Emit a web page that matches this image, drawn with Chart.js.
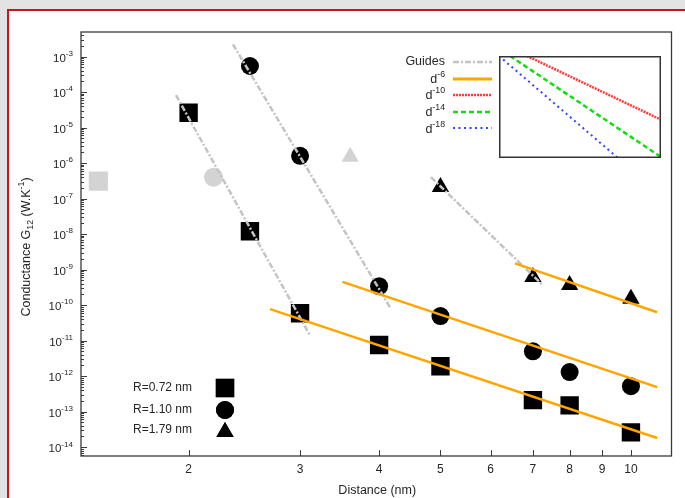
<!DOCTYPE html>
<html>
<head>
<meta charset="utf-8">
<script src="https://cdn.jsdelivr.net/npm/chart.js@4.4.0/dist/chart.umd.min.js"></script>
<style>
html, body { margin: 0; padding: 0; }
body { width: 685px; height: 498px; background: #e3e3e3; position: relative; overflow: hidden; }
#frame { position: absolute; left: 7px; top: 9px; width: 720px; height: 540px; background: #fff;
         border-left: 2px solid #c8161d; border-top: 2px solid #c8161d; }
#main { position: absolute; left: 0; top: 0; }
#inset { position: absolute; left: 499px; top: 56px; background: #fff; }
</style>
</head>
<body>
<div id="frame"></div>
<canvas id="main" width="685" height="498"></canvas>
<canvas id="inset" width="162" height="102"></canvas>
<script>
// conductance vs distance, three particle radii
var sqDist = [2, 2.5, 3, 4, 5, 7, 8, 10];
var condR072 = [2.6e-5, 1.2e-8, 5.9e-11, 7.5e-12, 1.9e-12, 2.1e-13, 1.5e-13, 2.6e-14];
var circDist = [2.5, 3, 4, 5, 7, 8, 10];
var condR110 = [5.4e-4, 1.6e-6, 3.4e-10, 4.9e-11, 5.0e-12, 1.3e-12, 5.2e-13];
var triDist = [5, 7, 8, 10];
var condR179 = [2.1e-7, 6.2e-10, 3.7e-10, 1.5e-10];
// light grey points (contact values): square, circle, triangle
var greyDist = [1.44, 2.19, 3.6];
var greyCond = [3.1e-7, 4.0e-7, 1.5e-6];
// guide segments (start / end)
var guideX = [[1.91, 3.11], [2.35, 4.16], [4.83, 7.25]];
var guideY = [[8.2e-5, 1.4e-11], [2.2e-3, 8.8e-11], [4.0e-7, 3.7e-10]];
// d^-6 fits (start / end)
var fitX = [[2.69, 11.0], [3.50, 11.0], [6.56, 11.0]];
var fitY = [[7.7e-11, 1.8e-14], [4.5e-10, 4.9e-13], [1.5e-9, 6.3e-11]];
// small power-law box
var insetX = { d10: [1.49, 10], d14: [1.17, 10], d18: [1.0, 5.41] };
var insetY = { d10: [1, 5.5e-9], d14: [1, 8.0e-14], d18: [1, 6.3e-14] };

var xTicks = [2, 3, 4, 5, 6, 7, 8, 9, 10];
var yExps = [-3, -4, -5, -6, -7, -8, -9, -10, -11, -12, -13, -14];
var seriesNames = ['R=0.72 nm', 'R=1.10 nm', 'R=1.79 nm'];

var FONT = "'Liberation Sans', Arial, sans-serif";
var TXT = '#262626';
var GREY = '#d3d3d3';
var GUIDE = '#c4c4c4';
var ORANGE = '#ffa500';

function pts(xs, ys) {
    var out = [];
    for (var i = 0; i < xs.length; i++) out.push({x: xs[i], y: ys[i]});
    return out;
}

// text made of normal / sup / sub pieces
function richWidth(ctx, parts, size) {
    var w = 0;
    parts.forEach(function (p) {
        ctx.font = (p[1] ? size * 0.7 : size) + 'px ' + FONT;
        w += ctx.measureText(p[0]).width;
    });
    return w;
}
function drawRich(ctx, parts, x, y, size, align) {
    var w = richWidth(ctx, parts, size);
    var cx = align == 'right' ? x - w : (align == 'center' ? x - w / 2 : x);
    ctx.textAlign = 'left';
    ctx.textBaseline = 'middle';
    parts.forEach(function (p) {
        var s = p[1] ? size * 0.7 : size;
        ctx.font = s + 'px ' + FONT;
        var dy = p[1] == 'sup' ? -size * 0.42 : (p[1] == 'sub' ? size * 0.28 : 0);
        ctx.fillText(p[0], cx, y + dy);
        cx += ctx.measureText(p[0]).width;
    });
}

function lineSample(ctx, x0, x1, y, color, width, dash) {
    ctx.save();
    ctx.strokeStyle = color;
    ctx.lineWidth = width;
    ctx.setLineDash(dash);
    ctx.beginPath();
    ctx.moveTo(x0, y);
    ctx.lineTo(x1, y);
    ctx.stroke();
    ctx.restore();
}

var decorPlugin = {
    id: 'decor',
    afterDatasetsDraw: function (chart) {
        var ctx = chart.ctx;
        var a = chart.chartArea;
        var xs = chart.scales.x, ys = chart.scales.y;
        ctx.save();
        ctx.strokeStyle = '#3a3a3a';
        ctx.lineWidth = 1.3;
        ctx.strokeRect(a.left, a.top, a.right - a.left, a.bottom - a.top);

        // y ticks, major and minor, pointing inward
        ctx.lineWidth = 1;
        ctx.beginPath();
        for (var e = -2; e >= -15; e--) {
            for (var k = 1; k <= 9; k++) {
                var v = k * Math.pow(10, e);
                var py = ys.getPixelForValue(v);
                if (py < a.top || py > a.bottom) continue;
                var len = k == 1 ? 6 : 3;
                ctx.moveTo(a.left, Math.round(py) + 0.5);
                ctx.lineTo(a.left + len, Math.round(py) + 0.5);
            }
        }
        xTicks.forEach(function (t) {
            var px = Math.round(xs.getPixelForValue(t)) + 0.5;
            ctx.moveTo(px, a.bottom);
            ctx.lineTo(px, a.bottom - 6);
        });
        ctx.stroke();

        ctx.fillStyle = TXT;
        yExps.forEach(function (e) {
            var py = ys.getPixelForValue(Math.pow(10, e));
            drawRich(ctx, [['10'], [String(e).replace('-', '-'), 'sup']], a.left - 8, py + 2, 11.5, 'right');
        });
        ctx.font = '12px ' + FONT;
        ctx.textAlign = 'center';
        ctx.textBaseline = 'middle';
        xTicks.forEach(function (t) {
            ctx.fillText(String(t), xs.getPixelForValue(t), a.bottom + 14);
        });
        ctx.font = '12.5px ' + FONT;
        ctx.fillText('Distance (nm)', (a.left + a.right) / 2 + 1, a.bottom + 35);

        ctx.save();
        ctx.translate(27, 247);
        ctx.rotate(-Math.PI / 2);
        drawRich(ctx, [['Conductance G'], ['12', 'sub'], [' (W.K'], ['-1', 'sup'], [')']], 0, 0, 12.5, 'center');
        ctx.restore();

        // key for the marker shapes
        var keyY = [388, 410, 430];
        var shapes = ['rect', 'circle', 'triangle'];
        var radii = [13, 9, 10];
        for (var i = 0; i < 3; i++) {
            ctx.fillStyle = TXT;
            ctx.font = '12px ' + FONT;
            ctx.textAlign = 'left';
            ctx.fillText(seriesNames[i], 133, keyY[i]);
            ctx.fillStyle = '#000';
            Chart.helpers.drawPoint(ctx, {pointStyle: shapes[i], radius: radii[i], borderWidth: 0}, 225, keyY[i] + (i == 2 ? 2 : 0));
            ctx.fill();
        }

        // key for the line styles
        var lx0 = 453, lx1 = 492;
        ctx.fillStyle = TXT;
        drawRich(ctx, [['Guides']], 445, 62, 12.5, 'right');
        drawRich(ctx, [['d'], ['-6', 'sup']], 445, 80, 12.5, 'right');
        drawRich(ctx, [['d'], ['-10', 'sup']], 445, 96, 12.5, 'right');
        drawRich(ctx, [['d'], ['-14', 'sup']], 445, 113, 12.5, 'right');
        drawRich(ctx, [['d'], ['-18', 'sup']], 445, 130, 12.5, 'right');
        lineSample(ctx, lx0, lx1, 62, GUIDE, 2.5, [6, 2, 2, 2]);
        lineSample(ctx, lx0, lx1, 79, ORANGE, 3, []);
        lineSample(ctx, lx0, lx1, 95, '#ff3b3b', 2.5, [2, 1]);
        lineSample(ctx, lx0, lx1, 112, '#11dd11', 2.5, [5, 3]);
        lineSample(ctx, lx0, lx1, 128, '#3344ff', 2, [2, 3.5]);
        ctx.restore();
    }
};

function marker(data, style, radius, color) {
    return {data: data, pointStyle: style, pointRadius: radius, pointBackgroundColor: color,
            pointBorderWidth: 0, showLine: false, order: 2};
}
function segment(x, y, color, width, dash) {
    return {data: pts(x, y), showLine: true, borderColor: color, borderWidth: width,
            borderDash: dash, pointRadius: 0, order: 1};
}

var ds = [];
for (var g = 0; g < 3; g++) ds.push(segment(fitX[g], fitY[g], ORANGE, 2.5, []));
for (var g = 0; g < 3; g++) ds.push(segment(guideX[g], guideY[g], GUIDE, 2.5, [6, 2, 2, 2]));
ds.push(marker(pts(sqDist, condR072), 'rect', 13, '#000'));
ds.push(marker(pts(circDist, condR110), 'circle', 9, '#000'));
ds.push(marker(pts(triDist, condR179), 'triangle', 10, '#000'));
ds.push(marker([{x: greyDist[0], y: greyCond[0]}], 'rect', 13.5, GREY));
ds.push(marker([{x: greyDist[1], y: greyCond[1]}], 'circle', 9.5, GREY));
ds.push(marker([{x: greyDist[2], y: greyCond[2]}], 'triangle', 10, GREY));

new Chart(document.getElementById('main').getContext('2d'), {
    type: 'scatter',
    data: {datasets: ds},
    options: {
        responsive: false,
        animation: false,
        devicePixelRatio: 1,
        layout: {padding: {left: 81, top: 32, right: 7, bottom: 42}},
        plugins: {legend: {display: false}, tooltip: {enabled: false}},
        scales: {
            x: {type: 'logarithmic', display: false, min: 1.352, max: 11.59},
            y: {type: 'logarithmic', display: false, min: Math.pow(10, -14.25), max: Math.pow(10, -2.31)}
        }
    },
    plugins: [decorPlugin]
});

var insetBorder = {
    id: 'insetBorder',
    afterDatasetsDraw: function (chart) {
        var ctx = chart.ctx, a = chart.chartArea;
        ctx.save();
        ctx.strokeStyle = '#333';
        ctx.lineWidth = 1.5;
        ctx.strokeRect(0.75, 0.75, chart.width - 1.5, chart.height - 1.5);
        ctx.restore();
    }
};

new Chart(document.getElementById('inset').getContext('2d'), {
    type: 'scatter',
    data: {datasets: [
        segment(insetX.d10, insetY.d10, '#ff3b3b', 2.5, [2, 1]),
        segment(insetX.d14, insetY.d14, '#11dd11', 2.5, [5, 3]),
        segment(insetX.d18, insetY.d18, '#3344ff', 2, [2, 3.5])
    ]},
    options: {
        responsive: false,
        animation: false,
        devicePixelRatio: 1,
        layout: {padding: 0},
        plugins: {legend: {display: false}, tooltip: {enabled: false}},
        scales: {
            x: {type: 'logarithmic', display: false, min: 1, max: 10},
            y: {type: 'logarithmic', display: false, min: 6e-14, max: 1}
        }
    },
    plugins: [insetBorder]
});
</script>
</body>
</html>
